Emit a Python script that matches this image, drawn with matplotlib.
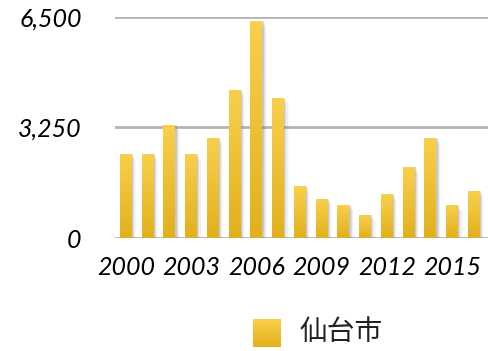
import numpy as np
import matplotlib.pyplot as plt
from matplotlib.colors import LinearSegmentedColormap
from matplotlib.patches import Rectangle

years = list(range(2000, 2017))
values = [2470, 2470, 3320, 2470, 2945, 4350, 6375, 4110, 1525,
          1145, 970, 675, 1290, 2085, 2940, 970, 1380]
tick_years = [2000, 2003, 2006, 2009, 2012, 2015]
ytick_vals = [0, 3250, 6500]
ytick_labels = ["0", "3,250", "6,500"]
series_name = "仙台市"

W, H = 488, 351
fig = plt.figure(figsize=(W / 100, H / 100), dpi=100)
ax = fig.add_axes([115 / W, (H - 238) / H, (W - 115) / W, (238 - 16.7) / H])

grad = LinearSegmentedColormap.from_list("g", ["#E2B01C", "#F9D04C"])
gimg = np.linspace(0, 1, 64).reshape(-1, 1)

x = np.arange(len(years))
bw = 0.55
for xi, v in zip(x, values):
    # soft shadow on the right
    for k, a in enumerate([0.22, 0.14, 0.08, 0.04]):
        ax.add_patch(Rectangle((xi - bw / 2 + 0.06 + k * 0.05, 0), bw, v - 60 * k,
                               color="#7a7a7a", alpha=a, lw=0, zorder=2))
    bar = Rectangle((xi - bw / 2, 0), bw, v, facecolor="none", lw=0, zorder=3)
    ax.add_patch(bar)
    im = ax.imshow(gimg, cmap=grad, aspect="auto", origin="lower",
                   extent=(xi - bw / 2, xi + bw / 2, 0, v), zorder=3)
    im.set_clip_path(bar)

for yv in ytick_vals:
    ax.axhline(yv, color="#b4b4b4", lw=2, zorder=1)

ax.set_xlim(-0.5, 16.65)
ax.set_ylim(0, 6500)
for s in ax.spines.values():
    s.set_visible(False)
ax.tick_params(length=0)
ax.set_yticks(ytick_vals)
ax.set_yticklabels(ytick_labels, fontsize=18, fontstyle="italic", family="Lato")
ax.set_xticks([years.index(t) for t in tick_years])
ax.set_xticklabels([str(t) for t in tick_years], fontsize=18, fontstyle="italic", family="Lato")
ax.tick_params(axis="y", pad=24)
ax.tick_params(axis="x", pad=13)

# legend
lax = fig.add_axes([253 / W, (H - 347) / H, 28 / W, 28 / H])
lax.imshow(gimg, cmap=grad, aspect="auto", origin="lower", extent=(0, 1, 0, 1))
lax.axis("off")
fig.text(300 / W, (H - 332) / H, series_name, fontsize=20, color="#222222",
         family=["Noto Sans CJK JP", "DejaVu Sans"], va="center", ha="left")

fig.savefig("out.png", dpi=100)
